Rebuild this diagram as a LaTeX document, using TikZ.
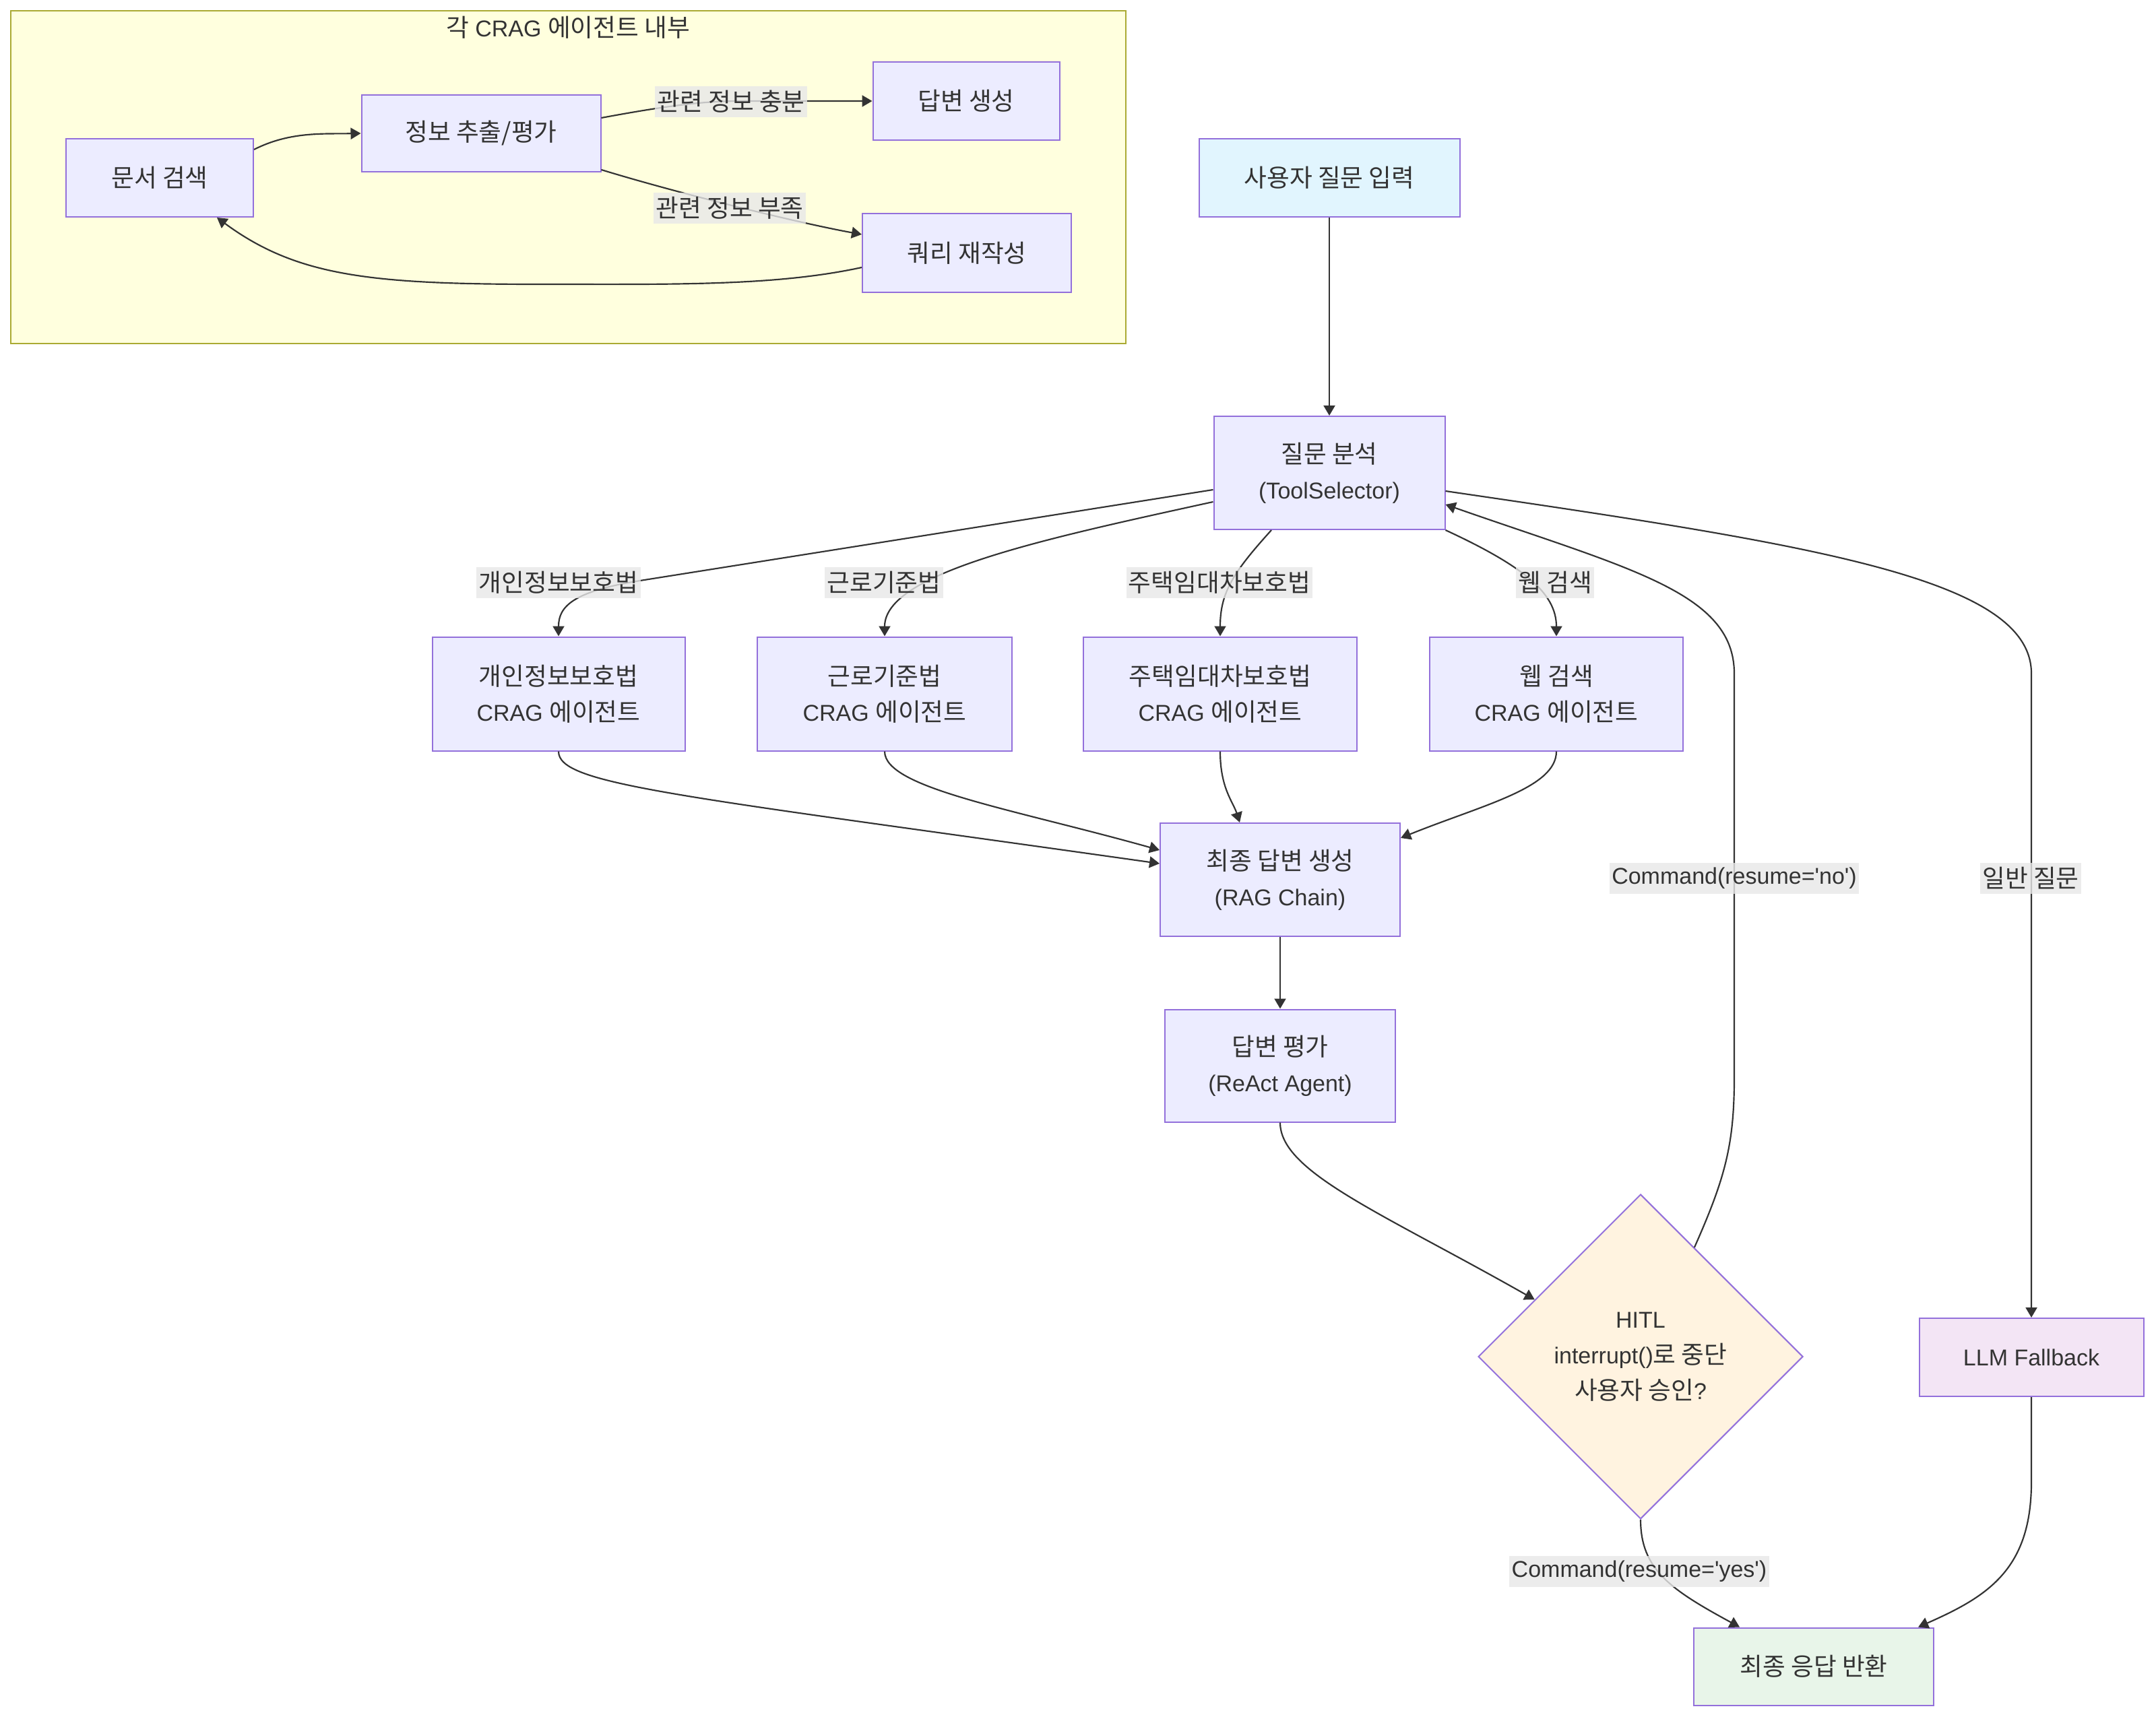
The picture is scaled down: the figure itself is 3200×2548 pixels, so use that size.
\documentclass[tikz,border=0pt]{standalone}
\usepackage{fontspec}
\setmainfont{Liberation Sans}[Ligatures=TeXOff]
\newfontfamily\krfont{Noto Sans CJK KR}[Scale=1.08]
\newcommand\K[1]{{\krfont #1}}
\newcommand\nf{\fontsize{10.2}{15.9}\selectfont}
\usetikzlibrary{arrows.meta,shapes.geometric,calc}
\definecolor{nfill}{HTML}{ECECFF}
\definecolor{nstroke}{HTML}{9370DB}
\definecolor{sgfill}{HTML}{FFFFDE}
\definecolor{sgstroke}{HTML}{AAAA33}
\definecolor{textc}{HTML}{333333}
\definecolor{edgec}{HTML}{333333}
\definecolor{lblbg}{HTML}{E8E8E8}
\definecolor{inpfill}{HTML}{E1F5FE}
\definecolor{hitlfill}{HTML}{FFF3E0}
\definecolor{fbfill}{HTML}{F3E5F5}
\definecolor{retfill}{HTML}{E8F5E9}
\tikzset{
  box/.style={draw=nstroke, fill=nfill, line width=0.6pt, inner sep=0pt, align=center, text=textc, font=\nf},
  lbl/.style={fill=lblbg, fill opacity=0.8, text opacity=1, inner xsep=1pt, inner ysep=0pt, minimum height=14pt, text=textc, font=\nf},
  edge/.style={draw=edgec, line width=0.65pt, -{Triangle[length=4.5pt,width=5.1pt]}},
}
\begin{document}
\begin{tikzpicture}[x=0.3pt,y=-0.3pt]
\useasboundingbox[fill=white] (0,0) rectangle (3200,2548);
% subgraph
\draw[fill=sgfill, draw=sgstroke, line width=0.6pt] (16,16) rectangle (1671,510);
\node[text=textc, font=\nf] (sgtitle) at (843,41) {\K{각} CRAG \K{에이전트 내부}};
\node[box, minimum width=83.4pt, minimum height=34.8pt] (doc) at (237,264) {\K{문서 검색}};
\node[box, minimum width=106.5pt, minimum height=34.2pt] (ext) at (714,198) {\K{정보 추출/평가}};
\node[box, minimum width=83.1pt, minimum height=34.8pt] (gen) at (1434,150) {\K{답변 생성}};
\node[box, minimum width=93pt, minimum height=35.1pt] (rew) at (1435,376) {\K{쿼리 재작성}};
% main
\node[box, fill=inpfill, minimum width=116.1pt, minimum height=34.8pt] (inp) at (1973,264) {\K{사용자 질문 입력}};
\node[box, minimum width=102.9pt, minimum height=50.4pt] (ana) at (1973,702) {\K{질문 분석}\\(ToolSelector)};
\node[box, minimum width=112.5pt, minimum height=50.7pt] (a1) at (829,1030) {\K{개인정보보호법}\\CRAG \K{에이전트}};
\node[box, minimum width=113.4pt, minimum height=50.7pt] (a2) at (1313,1030) {\K{근로기준법}\\CRAG \K{에이전트}};
\node[box, minimum width=121.8pt, minimum height=50.7pt] (a3) at (1811,1030) {\K{주택임대차보호법}\\CRAG \K{에이전트}};
\node[box, minimum width=112.8pt, minimum height=50.7pt] (a4) at (2310,1030) {\K{웹 검색}\\CRAG \K{에이전트}};
\node[box, minimum width=106.8pt, minimum height=50.4pt] (fin) at (1900,1306) {\K{최종 답변 생성}\\(RAG Chain)};
\node[box, minimum width=102.6pt, minimum height=50.1pt] (ev) at (1900,1582) {\K{답변 평가}\\(ReAct Agent)};
\node[box, fill=hitlfill, diamond, aspect=1, minimum size=144.6pt] (hitl) at (2435,2014) {HITL\\interrupt()\K{로 중단}\\\K{사용자 승인}?};
\node[box, fill=fbfill, minimum width=99.9pt, minimum height=34.8pt] (fb) at (3015,2015) {LLM Fallback};
\node[box, fill=retfill, minimum width=106.8pt, minimum height=34.5pt] (ret) at (2692,2474) {\K{최종 응답 반환}};
% subgraph edges
\draw[edge] ($(doc.east)+(0,-42)$) .. controls (430,195) and (480,199) .. (ext.west);
\draw[edge] ($(ext.east)+(0,-23)$) .. controls (1000,155) and (1050,150) .. (1100,150) -- (gen.west);
\draw[edge] ($(ext.east)+(0,54)$) .. controls (1000,285) and (1180,330) .. ($(rew.west)+(0,-28)$);
\draw[edge] ($(rew.west)+(0,21)$) .. controls (1150,425) and (1000,422) .. (800,422) .. controls (550,422) and (440,410) .. ($(doc.south)+(85,0)$);
% main edges
\draw[edge] (inp.south) -- (ana.north);
\draw[edge] ($(ana.west)+(0,25)$) -- (950,862) .. controls (851,878) and (829,900) .. (a1.north);
\draw[edge] ($(ana.west)+(0,43)$) .. controls (1550,800) and (1313,850) .. (a2.north);
\draw[edge] ($(ana.south)+(-86,0)$) .. controls (1830,850) and (1811,880) .. (a3.north);
\draw[edge] (ana.south east) .. controls (2260,840) and (2310,880) .. (a4.north);
\draw[edge] ($(ana.east)+(0,27)$) .. controls (2700,810) and (3015,860) .. (3015,1000) -- (fb.north);
\draw[edge] ($(hitl.north)!0.33!(hitl.east)$) .. controls (2560,1750) and (2574,1700) .. (2574,1600) -- (2574,1000) .. controls (2574,880) and (2420,845) .. ($(ana.east)+(0,47)$);
\draw[edge] (a1.south) .. controls (829,1165) and (1000,1180) .. ($(fin.west)+(0,-24)$);
\draw[edge] (a2.south) .. controls (1313,1170) and (1500,1200) .. ($(fin.west)+(0,-44)$);
\draw[edge] (a3.south) .. controls (1811,1170) and (1830,1190) .. ($(fin.north)+(-60,0)$);
\draw[edge] (a4.south) .. controls (2310,1170) and (2200,1195) .. ($(fin.north east)+(0,23)$);
\draw[edge] (fin.south) -- (ev.north);
\draw[edge] (ev.south) .. controls (1900,1740) and (2050,1800) .. ($(hitl.west)!0.35!(hitl.north)$);
\draw[edge] (hitl.south) .. controls (2435,2330) and (2480,2360) .. ($(ret.north)+(-110,0)$);
\draw[edge] (fb.south) -- (3015,2200) .. controls (3015,2330) and (2950,2370) .. ($(ret.north)+(155,0)$);
% labels
\node[lbl] (l1) at (1085,151) {\K{관련 정보 충분}};
\node[lbl] (l2) at (1083,309) {\K{관련 정보 부족}};
\node[lbl] (l3) at (829,865) {\K{개인정보보호법}};
\node[lbl] (l4) at (1312,865) {\K{근로기준법}};
\node[lbl] (l5) at (1810,865) {\K{주택임대차보호법}};
\node[lbl] (l6) at (2308,865) {\K{웹 검색}};
\node[lbl] (l7) at (2574,1304) {Command(resume='no')};
\node[lbl] (l8) at (3014,1304) {\K{일반 질문}};
\node[lbl] (l9) at (2433,2333) {Command(resume='yes')};
\end{tikzpicture}
\end{document}
